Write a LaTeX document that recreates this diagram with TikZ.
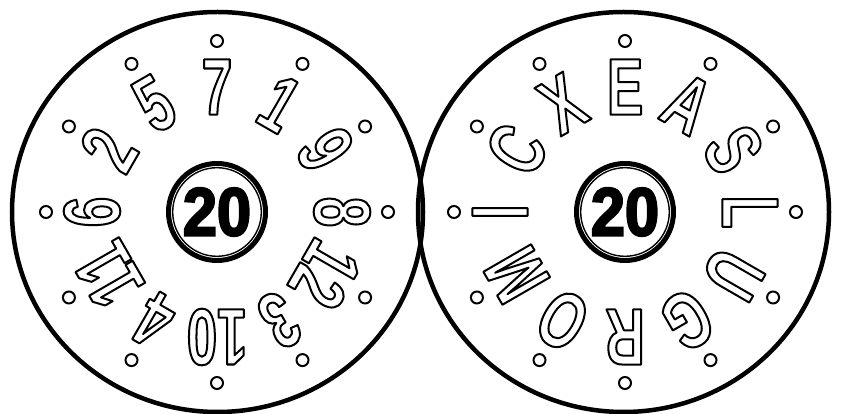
\documentclass[tikz,border=0pt]{standalone}
\usepackage{fontspec}
\setmainfont{Liberation Sans}
\newfontfamily\narrowbold[FakeStretch=0.68]{Liberation Sans Bold}
\newfontfamily\badgebold[FakeStretch=0.9]{Liberation Sans Bold}
\newcommand{\hollow}[1]{\special{pdf:literal direct 1 Tr 2 w 1 j}#1\special{pdf:literal direct 0 Tr}}
\newcommand{\solid}[1]{\special{pdf:literal direct 2 Tr 2.2 w}#1\special{pdf:literal direct 0 Tr}}

\begin{document}
\begin{tikzpicture}[
    x=1pt, y=1pt,
    rim/.style={line width=4.5pt},
    hole/.style={circle, draw, line width=2pt, minimum size=12pt, inner sep=0pt},
    glyph/.style={inner sep=0pt, font=\fontsize{80}{80}\narrowbold},
    badge/.style={circle, draw, line width=5pt, minimum size=97pt, inner sep=0pt, font=\fontsize{68}{68}\badgebold}
]
\useasboundingbox (0,0) rectangle (841,414);
\coordinate (lc) at (217,202);
\coordinate (rc) at (625,202);

% outer rims
\draw[rim] (217.5,202) ellipse [x radius=205.5, y radius=200];
\draw[rim] (623.5,202) ellipse [x radius=205.5, y radius=200];

% left disk: numbers
\begin{scope}[shift={(lc)}]
\node[badge] (lmid) at (0,0) {\solid{20}};
\draw[line width=1.4pt] (lmid.center) circle (44.3);
\foreach \t [count=\i] in {7,1,9,8,12,3,10,4,11,6,2,5} {
    \pgfmathsetmacro\a{90-30*(\i-1)}
    \node[hole] (ldot\i) at (\a:171) {};
    \node[glyph, rotate=\a-90] (lnum\i) at (\a:125) {\hollow{\t}};
}
\end{scope}

% right disk: letters
\begin{scope}[shift={(rc)}]
\node[badge] (rmid) at (0,0) {\solid{20}};
\draw[line width=1.4pt] (rmid.center) circle (44.3);
\foreach \t [count=\i] in {E,A,S,L,U,G,R,O,M,I,C,X} {
    \pgfmathsetmacro\a{90-30*(\i-1)}
    \node[hole] (rdot\i) at (\a:171) {};
    \node[glyph, rotate=\a-90] (rlet\i) at (\a:125) {\hollow{\t}};
}
\end{scope}
\end{tikzpicture}
\end{document}
